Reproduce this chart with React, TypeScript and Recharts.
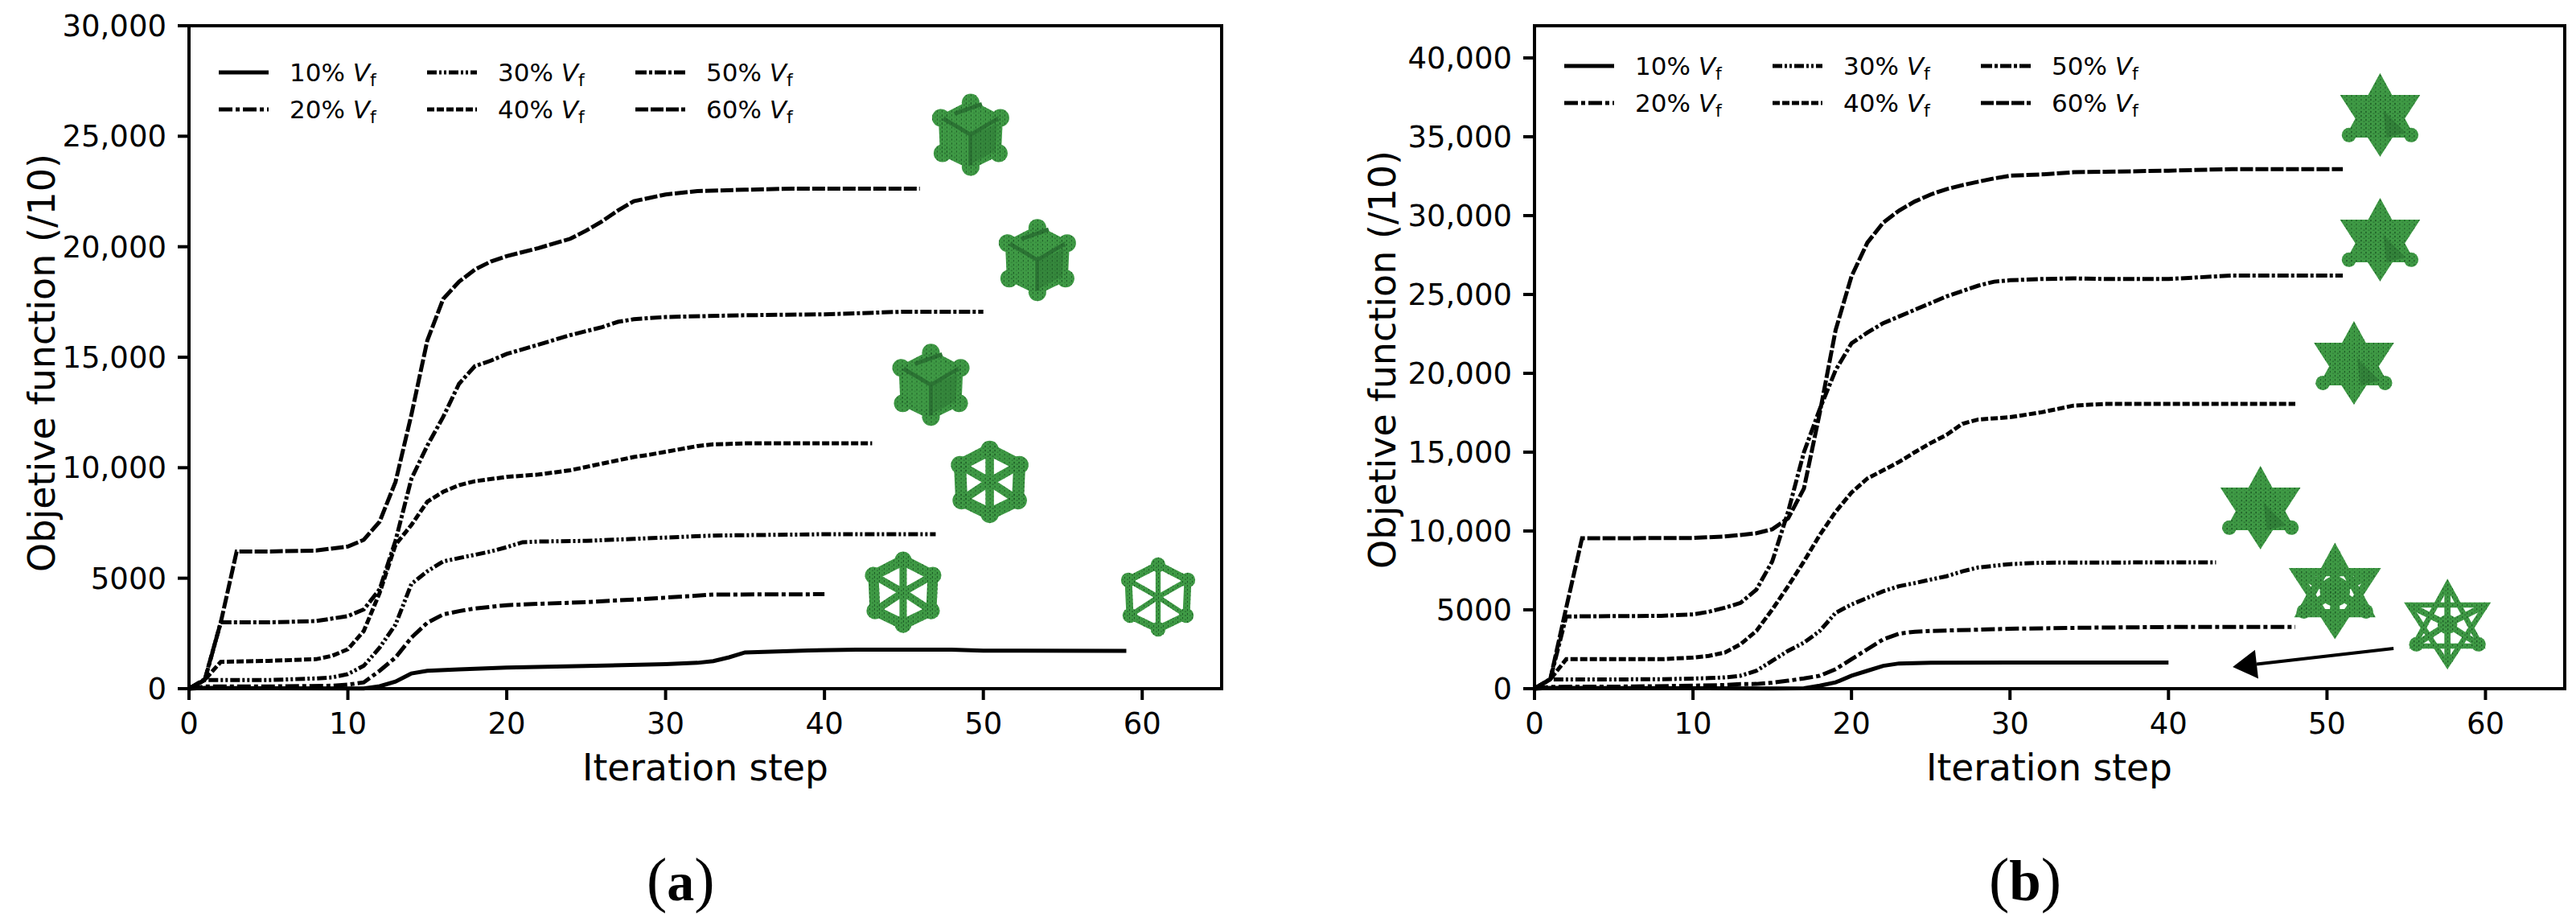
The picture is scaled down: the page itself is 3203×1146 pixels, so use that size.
import React from "react"
import {
  Label,
  Legend,
  Line,
  LineChart,
  ReferenceArea,
  ReferenceDot,
  ReferenceLine,
  XAxis,
  YAxis,
} from "recharts"

type Pt = [number, number]

const seriesNames = ["10%", "20%", "30%", "40%", "50%", "60%"]
const seriesDashes = ["", "17 4 5 4", "12 3 3 3 3 3", "9 3", "14 3 4 3", "16 3"]

const xTicks = [0, 10, 20, 30, 40, 50, 60]
const yTicksA = [0, 5000, 10000, 15000, 20000, 25000, 30000]
const yTicksB = [0, 5000, 10000, 15000, 20000, 25000, 30000, 35000, 40000]

// panel (a) as [iteration, objective]
const a10: Pt[] = [[0, 0], [1, 40], [5, 20], [11, 10], [12, 110], [13, 320], [14, 690], [15, 810], [17, 870], [20, 960], [25, 1030], [30, 1110], [32, 1170], [33, 1250], [34, 1420], [35, 1640], [37, 1680], [39, 1730], [42, 1770], [48, 1770], [50, 1720], [59, 1710]]
const a20: Pt[] = [[0, 0], [1, 100], [5, 100], [9, 135], [10, 180], [11, 285], [12, 810], [13, 1410], [14, 2310], [15, 2985], [16, 3360], [17, 3510], [18, 3630], [20, 3780], [22, 3840], [25, 3915], [28, 4035], [30, 4120], [33, 4260], [40, 4275]]
const a30: Pt[] = [[0, 0], [1, 390], [5, 390], [8, 465], [9, 510], [10, 660], [11, 1035], [12, 1860], [13, 2900], [14, 4740], [15, 5310], [16, 5760], [17, 5910], [18, 6060], [19, 6210], [20, 6405], [21, 6630], [22, 6660], [25, 6690], [28, 6780], [30, 6840], [33, 6930], [40, 6990], [47, 6990]]
const a40: Pt[] = [[0, 0], [1, 400], [2, 1215], [5, 1260], [8, 1335], [9, 1485], [10, 1785], [11, 2610], [12, 4335], [13, 6510], [14, 7410], [15, 8460], [16, 8910], [17, 9210], [18, 9390], [20, 9585], [22, 9690], [24, 9885], [26, 10185], [28, 10485], [29, 10590], [32, 10980], [33, 11055], [35, 11100], [40, 11100], [43, 11100]]
const a50: Pt[] = [[0, 0], [1, 400], [2, 3000], [5, 3000], [8, 3060], [10, 3285], [11, 3585], [12, 4500], [13, 6700], [14, 9500], [15, 11000], [16, 12300], [17, 13800], [18, 14600], [19, 14845], [20, 15150], [22, 15570], [24, 16000], [26, 16360], [27, 16600], [28, 16720], [30, 16820], [35, 16900], [40, 16940], [45, 17060], [50, 17060]]
const a60: Pt[] = [[0, 0], [1, 435], [2, 3000], [3, 6210], [5, 6210], [8, 6250], [10, 6435], [11, 6735], [12, 7560], [13, 9360], [14, 12400], [15, 15755], [16, 17635], [17, 18420], [18, 18970], [19, 19330], [20, 19575], [22, 19940], [24, 20360], [25, 20730], [26, 21150], [27, 21640], [28, 22060], [30, 22365], [32, 22520], [35, 22580], [38, 22630], [46, 22630]]

// panel (b)
const b10: Pt[] = [[0, 0], [1, 50], [15, 10], [17, 30], [18, 190], [19, 400], [20, 820], [21, 1135], [22, 1450], [23, 1600], [25, 1640], [30, 1660], [40, 1660]]
const b20: Pt[] = [[0, 0], [1, 120], [5, 126], [10, 190], [12, 230], [13, 295], [14, 300], [15, 380], [16, 505], [17, 650], [18, 820], [19, 1240], [20, 1870], [21, 2500], [22, 3130], [23, 3490], [24, 3615], [25, 3660], [30, 3800], [35, 3870], [40, 3910], [48, 3910]]
const b30: Pt[] = [[0, 0], [1, 590], [5, 590], [8, 600], [10, 640], [11, 670], [12, 715], [13, 820], [14, 1135], [15, 1765], [16, 2400], [17, 2920], [18, 3660], [19, 4810], [20, 5340], [21, 5760], [22, 6180], [23, 6500], [24, 6700], [25, 6920], [26, 7130], [27, 7440], [28, 7690], [30, 7900], [32, 7990], [40, 8010], [43, 8010]]
const b40: Pt[] = [[0, 0], [1, 600], [2, 1870], [5, 1870], [8, 1870], [10, 1975], [11, 2080], [12, 2290], [13, 2820], [14, 3660], [15, 5020], [16, 6500], [17, 8070], [18, 9750], [19, 11220], [20, 12440], [21, 13330], [22, 13850], [23, 14380], [24, 15000], [25, 15580], [26, 16100], [27, 16800], [28, 17070], [30, 17215], [32, 17530], [34, 17950], [36, 18060], [48, 18060]]
const b50: Pt[] = [[0, 0], [1, 610], [2, 4580], [5, 4600], [8, 4620], [10, 4710], [11, 4880], [12, 5130], [13, 5440], [14, 6285], [15, 8070], [16, 11220], [17, 15000], [18, 17740], [19, 20200], [20, 21900], [21, 22580], [22, 23180], [23, 23600], [24, 24030], [25, 24450], [26, 24880], [27, 25220], [28, 25560], [29, 25810], [30, 25900], [32, 25980], [34, 26020], [36, 25980], [40, 25980], [44, 26200], [51, 26200]]
const b60: Pt[] = [[0, 0], [1, 610], [2, 5130], [3, 9540], [5, 9540], [10, 9560], [12, 9650], [13, 9750], [14, 9860], [15, 10110], [16, 10800], [17, 12700], [18, 17500], [19, 22750], [20, 26150], [21, 28280], [22, 29550], [23, 30320], [24, 30900], [25, 31340], [26, 31680], [27, 31930], [28, 32150], [29, 32360], [30, 32530], [32, 32610], [34, 32750], [36, 32780], [40, 32850], [44, 32950], [51, 32950]]

// inset lattice renders: where they sit (step, objective) and how thick the struts look
const iconsA = [
  { x: 49.2, y: 25070, strut: 10, solid: true },
  { x: 53.4, y: 19400, strut: 10, solid: true },
  { x: 46.7, y: 13750, strut: 10, solid: true },
  { x: 50.4, y: 9360, strut: 15, solid: false },
  { x: 44.95, y: 4365, strut: 13, solid: false },
  { x: 61, y: 4150, strut: 9, solid: false },
]
const iconsB = [
  { x: 53.35, y: 36380, strut: 16, solid: true },
  { x: 53.35, y: 28470, strut: 16, solid: true },
  { x: 51.7, y: 20660, strut: 14, solid: true },
  { x: 45.8, y: 11480, strut: 12, solid: true },
  { x: 50.5, y: 6170, strut: 17, solid: false },
  { x: 57.6, y: 4080, strut: 11, solid: false },
]
const arrowB = { from: { x: 54.2, y: 2550 }, to: { x: 44.05, y: 1380 } }

const FONT = "DejaVu Sans"
const GREEN = "#3f9a45"
const SHADE = "#2c7434"

const fmtTick = (v: number) => (v >= 10000 ? v.toLocaleString("en-US") : String(v))

const CUBE_OUTER: Pt[] = [[0, -40], [37, -21], [35, 23], [0, 40], [-35, 23], [-37, -21]]
const STAR_UP: Pt[] = [[0, -50], [42, 27], [-42, 27]]
const STAR_DOWN: Pt[] = [[-48, -24], [48, -24], [0, 50]]

const pts = (list: Pt[]) => list.map((p) => p.join(",")).join(" ")

function latticeBody(kind: "cube" | "star", strut: number, solid: boolean) {
  if (kind === "cube") {
    return (
      <>
        {solid ? <polygon points={pts(CUBE_OUTER)} strokeWidth={6} /> : null}
        {solid ? null : <polygon points={pts(CUBE_OUTER)} fill="none" strokeWidth={strut} />}
        {solid
          ? null
          : CUBE_OUTER.map((p, i) => (
              <line key={i} x1={0} y1={0} x2={p[0]} y2={p[1]} strokeWidth={strut * 0.7} />
            ))}
        {CUBE_OUTER.map((p, i) => (
          <circle key={i} cx={p[0]} cy={p[1]} r={solid ? 11 : strut * 0.35 + 6} stroke="none" />
        ))}
      </>
    )
  }
  return (
    <>
      {solid ? <polygon points={pts(STAR_UP)} strokeWidth={2} /> : null}
      {solid ? <polygon points={pts(STAR_DOWN)} strokeWidth={2} /> : null}
      {solid ? null : <polygon points={pts(STAR_UP)} fill="none" strokeWidth={strut * 0.6} />}
      {solid ? null : <polygon points={pts(STAR_DOWN)} fill="none" strokeWidth={strut * 0.6} />}
      {solid
        ? null
        : STAR_UP.concat(STAR_DOWN).map((p, i) => (
            <line key={i} x1={0} y1={0} x2={p[0]} y2={p[1]} strokeWidth={strut * 0.7} />
          ))}
      {solid ? null : <circle cx={0} cy={0} r={strut * 1.1} stroke="none" />}
      {STAR_UP.slice(1).map((p, i) => (
        <circle key={i} cx={p[0] * 0.92} cy={p[1] * 0.92} r={9} stroke="none" />
      ))}
    </>
  )
}

function Lattice({ cx, cy, kind, strut, solid }: any) {
  const body = latticeBody(kind, strut, solid)
  const isCube = kind === "cube"
  return (
    <g transform={`translate(${cx},${cy})`}>
      <g fill={GREEN} stroke={GREEN}>{body}</g>
      {solid && isCube ? <polygon points="3,0 33,-14 31,20 3,35" fill={SHADE} opacity={0.5} /> : null}
      {solid && isCube ? (
        <path d="M-34,-20 L0,0 L34,-20 M0,0 L0,38 M-20,-26 L14,-38" stroke={SHADE} strokeWidth={5} fill="none" />
      ) : null}
      {solid && !isCube ? <polygon points="4,-6 24,14 32,22 8,28" fill={SHADE} opacity={0.6} /> : null}
      <g fill="url(#voxelGrain)" stroke="url(#voxelGrain)">{body}</g>
    </g>
  )
}

function ArrowShape({ x1, y1, x2, y2 }: any) {
  const angle = Math.atan2(y2 - y1, x2 - x1)
  const len = 30
  const half = 18
  const bx = x2 - Math.cos(angle) * len
  const by = y2 - Math.sin(angle) * len
  const nx = -Math.sin(angle) * half
  const ny = Math.cos(angle) * half
  return (
    <g>
      <line x1={x1} y1={y1} x2={bx} y2={by} stroke="#000" strokeWidth={4} />
      <polygon points={`${x2},${y2} ${bx + nx},${by + ny} ${bx - nx},${by - ny}`} fill="#000" />
    </g>
  )
}

function LegendBlock({ payload }: any) {
  return (
    <div
      style={{
        display: "grid",
        gridAutoFlow: "column",
        gridTemplateRows: "46px 46px",
        gridTemplateColumns: "259px 259px 259px",
        fontFamily: FONT,
        fontSize: 31,
        color: "#000",
      }}
    >
      {(payload ?? []).map((entry: any) => (
        <div key={entry.value} style={{ display: "flex", alignItems: "center" }}>
          <svg width={62} height={6} style={{ marginRight: 26, flex: "none" }}>
            <line
              x1={0}
              y1={3}
              x2={62}
              y2={3}
              stroke="#000"
              strokeWidth={5}
              strokeDasharray={seriesDashes[seriesNames.indexOf(entry.value)]}
            />
          </svg>
          <span style={{ whiteSpace: "pre" }}>
            {entry.value} <i>V</i>
            <sub style={{ fontSize: 22, verticalAlign: -6, lineHeight: 0 }}>f</sub>
          </span>
        </div>
      ))}
    </div>
  )
}

type PanelProps = {
  left: number
  width: number
  axisWidth: number
  marginRight: number
  yMax: number
  yTicks: number[]
  series: Pt[][]
  icons: typeof iconsA
  kind: "cube" | "star"
  legendLeft: number
  legendTop: number
  labelX: number
  labelY: number
  xLabelX: number
  arrow?: typeof arrowB
}

function Panel(p: PanelProps) {
  return (
    <div style={{ position: "absolute", left: p.left, top: 0 }}>
      <LineChart
        width={p.width}
        height={1146}
        margin={{ top: 32, right: p.marginRight, bottom: 0, left: 0 }}
      >
        <XAxis
          dataKey="x"
          type="number"
          domain={[0, 65]}
          ticks={xTicks}
          interval={0}
          height={290}
          axisLine={false}
          tickSize={14}
          tickMargin={16}
          tickLine={{ stroke: "#000", strokeWidth: 4 }}
          tick={{ fill: "#000", fontSize: 37, fontFamily: FONT }}
        >
          <Label
            content={() => (
              <text x={p.xLabelX} y={970} textAnchor="middle" fontSize={45.5} fontFamily={FONT} fill="#000">
                Iteration step
              </text>
            )}
          />
        </XAxis>
        <YAxis
          type="number"
          domain={[0, p.yMax]}
          ticks={p.yTicks}
          interval={0}
          width={p.axisWidth}
          axisLine={false}
          tickSize={14}
          tickMargin={14}
          tickFormatter={fmtTick}
          tickLine={{ stroke: "#000", strokeWidth: 4 }}
          tick={{ fill: "#000", fontSize: 37, fontFamily: FONT }}
        >
          <Label
            content={() => (
              <text
                transform={`translate(${p.labelX},${p.labelY}) rotate(-90)`}
                textAnchor="middle"
                dominantBaseline="central"
                fontSize={46}
                fontFamily={FONT}
                fill="#000"
              >
                Objetive function (/10)
              </text>
            )}
          />
        </YAxis>
        {p.series.map((pointsOf, i) => (
          <Line
            key={seriesNames[i]}
            name={seriesNames[i]}
            data={pointsOf.map(([x, y]) => ({ x, y }))}
            dataKey="y"
            type="linear"
            stroke="#000"
            strokeWidth={5}
            strokeDasharray={seriesDashes[i]}
            dot={false}
            activeDot={false}
            isAnimationActive={false}
          />
        ))}
        <ReferenceArea
          x1={0}
          x2={65}
          y1={0}
          y2={p.yMax}
          fill="none"
          stroke="#000"
          strokeWidth={4}
          fillOpacity={0}
        />
        {p.icons.map((icon, i) => (
          <ReferenceDot
            key={i}
            x={icon.x}
            y={icon.y}
            r={1}
            shape={(d: any) => (
              <Lattice cx={d.cx} cy={d.cy} kind={p.kind} strut={icon.strut} solid={icon.solid} />
            )}
          />
        ))}
        {p.arrow ? (
          <ReferenceLine segment={[p.arrow.from, p.arrow.to]} shape={(d: any) => <ArrowShape {...d} />} />
        ) : null}
        <Legend
          layout="horizontal"
          verticalAlign="middle"
          align="center"
          content={(props: any) => <LegendBlock {...props} />}
          wrapperStyle={{ left: p.legendLeft, top: p.legendTop, width: 790, height: 92 }}
        />
      </LineChart>
    </div>
  )
}

function Caption({ left, letter, size }: { left: number; letter: string; size: number }) {
  return (
    <div
      style={{
        position: "absolute",
        left,
        top: 1118 - 76 * 0.891,
        fontFamily: "Liberation Serif",
        fontSize: 76,
        lineHeight: `${76 * 1.149}px`,
        color: "#000",
      }}
    >
      (<b style={{ fontSize: size }}>{letter}</b>)
    </div>
  )
}

export default function App() {
  return (
    <div style={{ position: "absolute", left: 0, top: 0, width: 3203, height: 1146, background: "#fff" }}>
      <svg width={0} height={0} style={{ position: "absolute" }}>
        <defs>
          <pattern id="voxelGrain" width={6} height={5} patternUnits="userSpaceOnUse">
            <rect x={0} y={0} width={1} height={2.2} fill="#1c5a25" />
            <rect x={3.5} y={2.5} width={1} height={1.4} fill="#256b2e" />
          </pattern>
        </defs>
      </svg>
      <Panel
        left={0}
        width={1600}
        axisWidth={235}
        marginRight={81}
        yMax={30000}
        yTicks={yTicksA}
        series={[a10, a20, a30, a40, a50, a60]}
        icons={iconsA}
        kind="cube"
        legendLeft={272}
        legendTop={67}
        labelX={52}
        labelY={451}
        xLabelX={877}
      />
      <Panel
        left={1600}
        width={1603}
        axisWidth={308}
        marginRight={14}
        yMax={42040}
        yTicks={yTicksB}
        series={[b10, b20, b30, b40, b50, b60]}
        icons={iconsB}
        kind="star"
        legendLeft={345}
        legendTop={59}
        labelX={119}
        labelY={447}
        xLabelX={948}
        arrow={arrowB}
      />
      <Caption left={804} letter="a" size={68} />
      <Caption left={2473} letter="b" size={71} />
    </div>
  )
}
